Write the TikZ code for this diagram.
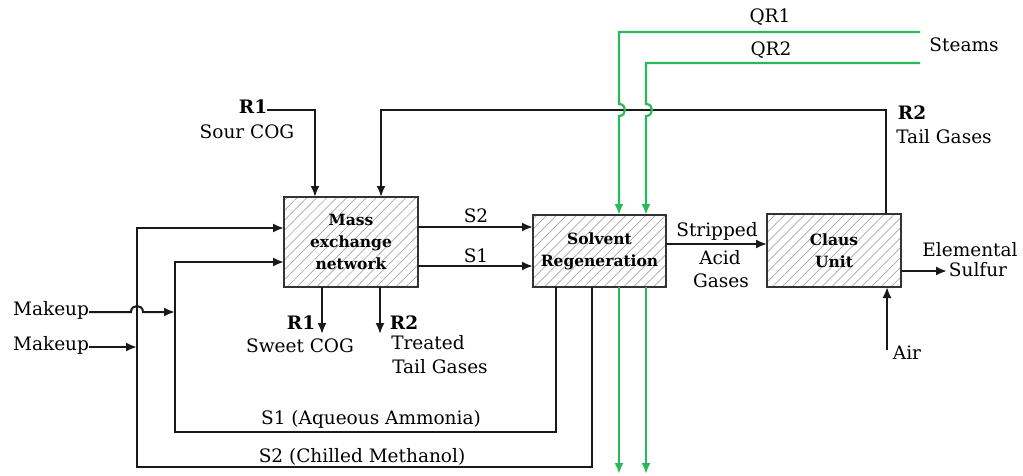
\documentclass[tikz,border=0pt]{standalone}
\usepackage{fontspec}
\setmainfont{DejaVu Serif}
\usetikzlibrary{arrows.meta,patterns.meta,calc}
\definecolor{steamgreen}{RGB}{40,185,90}
\begin{document}
\begin{tikzpicture}[x=1pt,y=-1pt,
  every node/.style={inner sep=0pt,outer sep=0pt,font=\fontsize{18.5}{21}\selectfont},
  unitbox/.style={draw=black!80,line width=2pt,
     pattern={Lines[angle=45,distance=7pt,line width=0.7pt]},pattern color=black!35,
     align=center,font=\fontsize{15.5}{22}\selectfont\bfseries},
  lbl/.style={align=center},
  flow/.style={line width=2pt,black!90},
  arr/.style={flow,-{Latex[length=11pt,width=9pt]}},
  steam/.style={line width=2.2pt,steamgreen},
  steamarr/.style={steam,-{Latex[length=11pt,width=9pt]}}
]
\useasboundingbox (0,0) rectangle (1023,475);

% units
\node[unitbox,minimum width=134pt,minimum height=90pt] (men) at (351,242) {Mass\\exchange\\network};
\node[unitbox,minimum width=133pt,minimum height=72pt] (sr) at (599.5,251) {Solvent\\Regeneration};
\node[unitbox,minimum width=134pt,minimum height=73pt] (claus) at (834,250.5) {Claus\\Unit};

% labels
\node[anchor=east] (mk1) at (89,310) {Makeup};
\node[anchor=east] (mk2) at (89,345) {Makeup};
\node[font=\fontsize{18.5}{21}\selectfont\bfseries] (r1a) at (253,107) {R1};
\node (sourcog) at (247,132) {Sour COG};
\node[font=\fontsize{18.5}{21}\selectfont\bfseries] (r1b) at (301,323) {R1};
\node (sweet) at (300,346) {Sweet COG};
\node[font=\fontsize{18.5}{21}\selectfont\bfseries] (r2b) at (404,323) {R2};
\node (treated) at (428,343) {Treated};
\node (ttg) at (440,367) {Tail Gases};
\node (s2l) at (476,216) {S2};
\node (s1l) at (476,256) {S1};
\node (s1b) at (371,419) {S1 (Aqueous Ammonia)};
\node (s2b) at (362,457) {S2 (Chilled Methanol)};
\node (strip) at (717,231) {Stripped};
\node (acid) at (720,258) {Acid};
\node (gases) at (721,281) {Gases};
\node (elem) at (970,250) {Elemental};
\node (sulf) at (978,270) {Sulfur};
\node (air) at (907,353) {Air};
\node[font=\fontsize{18.5}{21}\selectfont\bfseries] (r2a) at (912,113) {R2};
\node (tailg) at (944,137) {Tail Gases};
\node (steams) at (964,45) {Steams};
\node (qr1) at (770,17) {QR1};
\node (qr2) at (771,50) {QR2};

% coordinates
\coordinate (c1) at (175,432);
\coordinate (c2) at (137,467);
\coordinate (r2c) at (381,110);
\coordinate (st1) at (920,32);
\coordinate (st2) at (920,63);
\coordinate (o1) at (322,334);
\coordinate (o2) at (380,334);
\coordinate (sulfend) at (947,271);
\coordinate (airend) at (887,350);
\coordinate (g1) at (619,474);
\coordinate (g2) at (646,474);

% MEN -> SR
\draw[arr] ([yshift=15pt]men.east) -- ([yshift=24pt]sr.west);
\draw[arr] ([yshift=-24pt]men.east) -- ([yshift=-15pt]sr.west);

% solvent recycles
\draw[arr] ([xshift=-7.5pt]sr.south) |- (c2) |- ([yshift=14pt]men.west);
\draw[arr] ([xshift=-43.5pt]sr.south) |- (c1) |- ([yshift=-20pt]men.west);

% makeups
\draw[arr] (mk1.east |- 0,312) -- (131,312) .. controls (131,304) and (143,304) .. (143,312) -- (c1 |- 0,312);
\draw[arr] (mk2.east |- 0,347) -- (c2 |- 0,347);

% R1 sour COG
\draw[arr] (r1a.east |- 0,110) -| ([xshift=-36pt]men.north);
% R2 tail gas recycle
\draw[arr] ([xshift=52pt]claus.north) |- (r2c) -- ([xshift=30pt]men.north);

% MEN outputs
\draw[arr] ([xshift=-29pt]men.south) -- (o1);
\draw[arr] ([xshift=29pt]men.south) -- (o2);

% SR -> Claus
\draw[arr] ([yshift=7pt]sr.east) -- ([yshift=6.5pt]claus.west);
\draw[arr] ([yshift=-20.5pt]claus.east) -- (sulfend);
\draw[arr] (airend) -- ([xshift=53pt]claus.south);

% steam lines
\draw[steamarr] (st1) -- (619,32) -- (619,104) .. controls (627,104) and (627,116) .. (619,116) -- ([xshift=19.5pt]sr.north);
\draw[steamarr] (st2) -- (646,63) -- (646,104) .. controls (654,104) and (654,116) .. (646,116) -- ([xshift=46.5pt]sr.north);
\draw[steamarr] ([xshift=19.5pt]sr.south) -- (g1);
\draw[steamarr] ([xshift=46.5pt]sr.south) -- (g2);
\end{tikzpicture}
\end{document}
